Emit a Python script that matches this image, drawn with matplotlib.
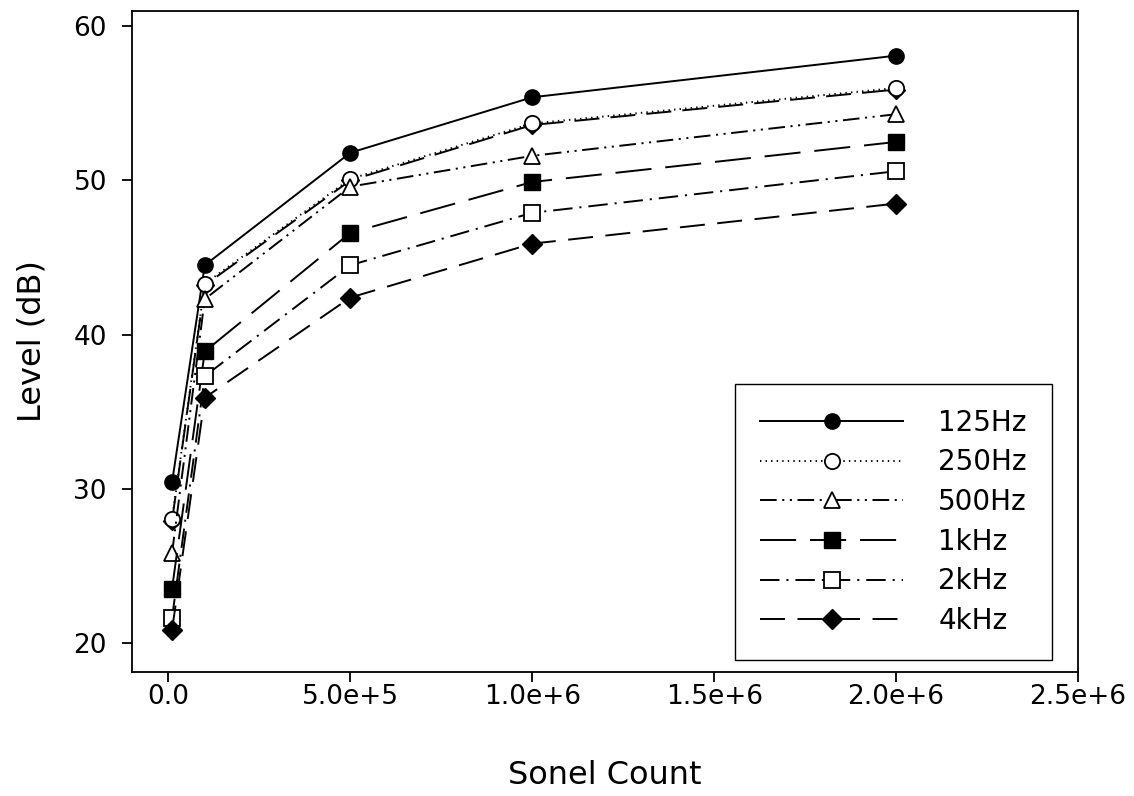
import numpy as np
import matplotlib
matplotlib.use("Agg")
import matplotlib.pyplot as plt

plt.rcParams['font.family'] = ['DejaVu Sans']
plt.rcParams['lines.scale_dashes'] = False

# sonel counts
counts = [1e4, 1e5, 5e5, 1e6, 2e6]

# levels in dB per band
lvl_125 = [30.4, 44.5, 51.8, 55.4, 58.1]
lvl_250 = [28.0, 43.3, 50.1, 53.7, 56.0]
lvl_500 = [25.8, 42.3, 49.6, 51.6, 54.3]
lvl_1k = [23.5, 38.9, 46.6, 49.9, 52.5]
lvl_2k = [21.6, 37.3, 44.5, 47.9, 50.6]
lvl_4k = [20.8, 35.9, 42.4, 45.9, 48.5]
# extra series hidden under the 250Hz circles (not in legend)
lvl_hidden = [27.9, 43.2, 50.0, 53.6, 55.9]

labels = ["125Hz", "250Hz", "500Hz", "1kHz", "2kHz", "4kHz"]

fig = plt.figure(figsize=(11.34, 7.96), dpi=100)
ax = fig.add_axes([0.1164, 0.1558, 0.8342, 0.8304])

lw = 1.4
ms = 11

# hidden series first so 250Hz circles sit on top
ax.plot(counts, lvl_hidden, color="black", lw=lw, ls=(0, (18, 8)),
        marker="D", ms=9, mfc="black", mec="black", label="_nolegend_")

ax.plot(counts, lvl_125, color="black", lw=lw, ls="-",
        marker="o", ms=ms, mfc="black", mec="black", label=labels[0])
ax.plot(counts, lvl_250, color="black", lw=lw, ls=(0, (1, 3)),
        marker="o", ms=ms, mfc="white", mec="black", mew=1.3, label=labels[1])
ax.plot(counts, lvl_500, color="black", lw=lw, ls=(0, (12, 4, 1.5, 4, 1.5, 4)),
        marker="^", ms=ms, mfc="white", mec="black", mew=1.3, label=labels[2])
ax.plot(counts, lvl_1k, color="black", lw=lw, ls=(0, (26, 10)),
        marker="s", ms=ms, mfc="black", mec="black", label=labels[3])
ax.plot(counts, lvl_2k, color="black", lw=lw, ls=(0, (14, 5, 1.5, 5)),
        marker="s", ms=ms, mfc="white", mec="black", mew=1.3, label=labels[4])
ax.plot(counts, lvl_4k, color="black", lw=lw, ls=(0, (18, 9)),
        marker="D", ms=ms - 1, mfc="black", mec="black", label=labels[5])

ax.set_xlim(-1.0e5, 2.5e6)
ax.set_ylim(18.1, 61.0)

xt = [0, 5e5, 1e6, 1.5e6, 2e6, 2.5e6]
ax.set_xticks(xt)
ax.set_xticklabels(["0.0", "5.0e+5", "1.0e+6", "1.5e+6", "2.0e+6", "2.5e+6"])
ax.set_yticks([20, 30, 40, 50, 60])

ax.tick_params(direction="out", length=7, width=1.3, labelsize=19)
ax.tick_params(axis="x", pad=2)
ax.tick_params(axis="y", pad=11)
for sp in ax.spines.values():
    sp.set_linewidth(1.3)

ax.set_xlabel("Sonel Count", fontsize=23, labelpad=36)
ax.set_ylabel("Level (dB)", fontsize=23, labelpad=19)

leg = ax.legend(loc="lower right", bbox_to_anchor=(0.9725, 0.018),
                fontsize=20, handlelength=5.15, handletextpad=1.25,
                borderpad=0.9, labelspacing=0.42, fancybox=False,
                framealpha=1, edgecolor="black", borderaxespad=0)
leg.get_frame().set_linewidth(1.0)

fig.savefig("out.png", dpi=100)
